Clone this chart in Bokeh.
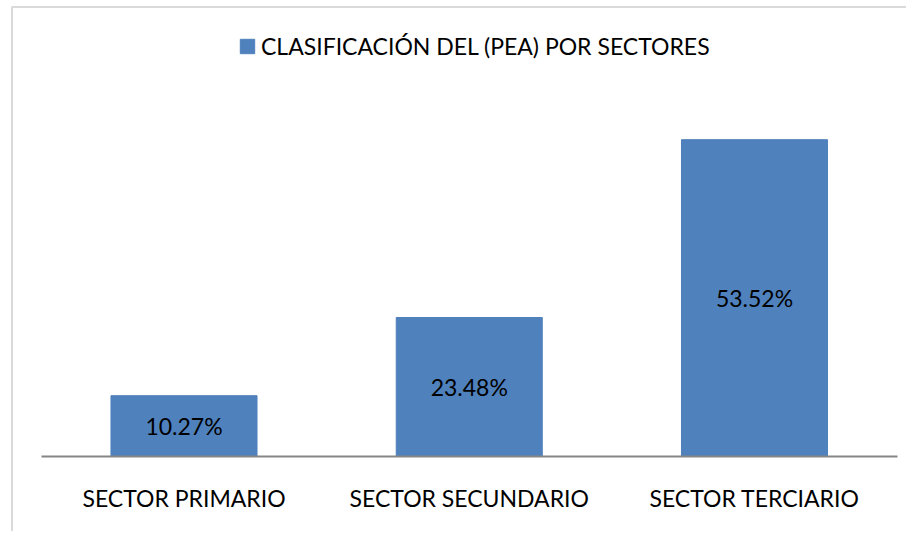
from bokeh.plotting import figure
from bokeh.models import (ColumnDataSource, LabelSet, Legend, LegendItem,
                          BoxAnnotation, FixedTicker, Range1d)
from bokeh.core.properties import value
from bokeh.embed import file_html
from bokeh.resources import INLINE

categories = ["SECTOR PRIMARIO", "SECTOR SECUNDARIO", "SECTOR TERCIARIO"]
values = [10.27, 23.48, 53.52]
value_labels = ["10.27%", "23.48%", "53.52%"]
series_name = "CLASIFICACIÓN DEL (PEA) POR SECTORES"

FONT = "Lato"
BAR = "#4F81BD"
GRAY = "#868686"

pos = list(range(len(categories)))
src = ColumnDataSource(dict(x=pos, val=values,
                            mid=[v / 2 for v in values], lab=value_labels))

W, H = 906, 531
p = figure(width=W, height=H, output_backend="svg", toolbar_location=None,
           y_axis_location=None, min_border=0,
           x_range=Range1d(-0.6433, 2.5329), y_range=Range1d(-12.67, 77.03))
p.outline_line_color = None
p.xgrid.visible = False
p.ygrid.visible = False
p.background_fill_color = "white"
p.border_fill_color = "white"

r = p.vbar(x="x", top="val", width=0.512, source=src,
           fill_color=BAR, line_color=BAR)

labels = LabelSet(x="x", y="mid", text="lab", source=src,
                  text_align="center", text_baseline="middle",
                  text_font=value(FONT), text_font_size=value("23px"),
                  text_color="black")
p.add_layout(labels)

legend = Legend(items=[LegendItem(label=series_name, renderers=[r])],
                location=(238, 471), padding=0, margin=0,
                glyph_width=18, glyph_height=18, label_standoff=5,
                border_line_color=None, background_fill_alpha=0,
                label_text_font=FONT, label_text_font_size="23px",
                label_text_color="black")
p.add_layout(legend)

ax = p.xaxis[0]
ax.fixed_location = 0
ax.bounds = (-0.5, len(categories) - 0.5)
ax.ticker = FixedTicker(ticks=pos)
ax.major_label_overrides = {i: c for i, c in zip(pos, categories)}
ax.axis_line_color = GRAY
ax.axis_line_width = 2
ax.major_tick_line_color = None
ax.minor_tick_line_color = None
ax.major_label_text_font = FONT
ax.major_label_text_font_size = "23px"
ax.major_label_text_color = "black"
ax.major_label_standoff = 22

# chart-area border: left and top edges visible, the rest runs off the canvas
border = BoxAnnotation(left=11.5, right=2000, top=6.5, bottom=2000,
                       left_units="canvas", right_units="canvas",
                       top_units="canvas", bottom_units="canvas",
                       fill_alpha=0, fill_color=None,
                       line_color=GRAY, line_width=2)
p.add_layout(border)

open("out.html", "w").write(file_html(p, INLINE))
